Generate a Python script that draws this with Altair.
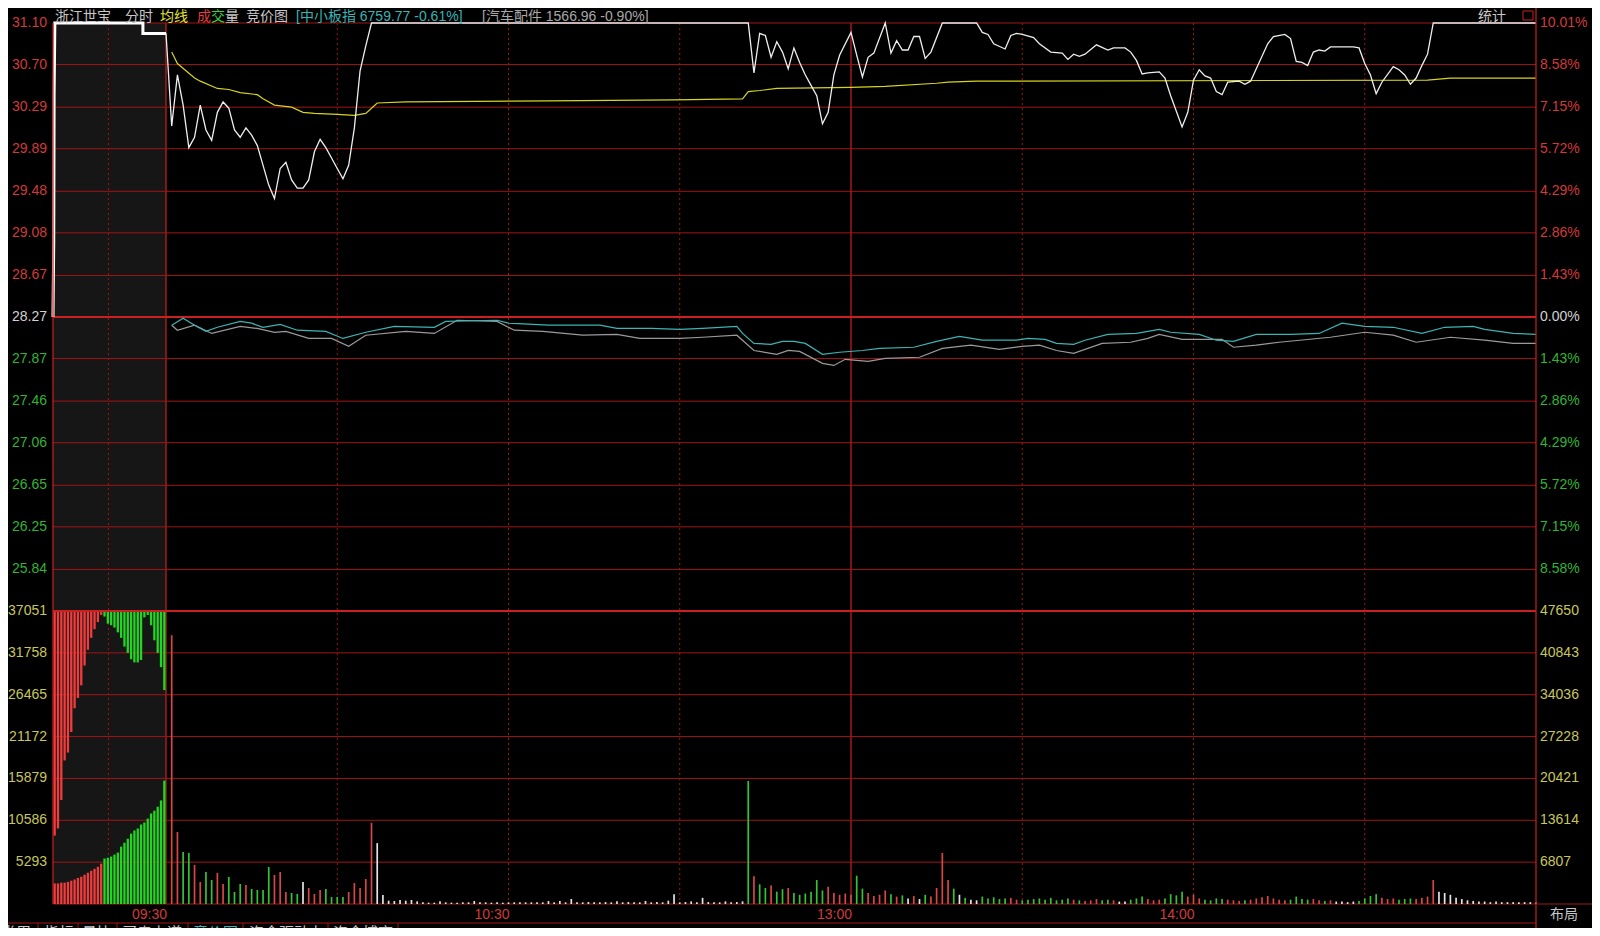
import altair as alt
import pandas as pd

# ====================== data ======================
PREV_CLOSE = 28.27

price_ticks = [31.10, 30.70, 30.29, 29.89, 29.48, 29.08, 28.67, 28.27,
               27.87, 27.46, 27.06, 26.65, 26.25, 25.84]
pct_labels = ["10.01%", "8.58%", "7.15%", "5.72%", "4.29%", "2.86%", "1.43%", "0.00%",
              "1.43%", "2.86%", "4.29%", "5.72%", "7.15%", "8.58%"]
vol_left_ticks = [37051, 31758, 26465, 21172, 15879, 10586, 5293]
vol_right_ticks = [47650, 40843, 34036, 27228, 20421, 13614, 6807]
time_ticks = [0, 60, 120, 180]
time_labels = ["09:30", "10:30", "13:00", "14:00"]

# continuous session: minutes after 09:30 (13:00 == minute 120)
price_min = [0, 1, 2, 3, 4, 5, 6, 7, 8, 9, 10, 11, 12, 13, 14, 15, 16, 17, 18, 19, 20,
             21, 22, 23, 24, 25, 26, 27, 28, 29, 30, 31, 32, 33, 34, 35, 36, 102,
             103, 104, 105, 106, 107, 108, 109, 110, 111, 112, 113, 114, 115, 116, 117, 118,
             120, 121, 122, 123, 124, 126, 127, 128, 129, 130, 131, 132, 133, 134, 136, 142,
             143, 144, 145, 147, 148, 149, 150, 152, 153, 155, 157, 158, 159, 160, 161, 163,
             165, 166, 168, 169, 170, 171, 172, 174, 175, 176, 178, 179, 180, 181, 182, 183,
             184, 185, 186, 188, 189, 190, 191, 193, 194, 196, 197, 198, 199, 200, 201, 202,
             203, 204, 207, 208, 209, 210, 211, 212, 213, 215, 216, 217, 218, 219, 220, 221,
             222, 240]
price_val = [31.00, 30.11, 30.60, 30.31, 29.90, 30.00, 30.31, 30.07, 29.97, 30.24, 30.34,
             30.28, 30.07, 30.00, 30.09, 30.02, 29.92, 29.73, 29.54, 29.41, 29.70,
             29.76, 29.59, 29.51, 29.51, 29.59, 29.86, 29.98, 29.90, 29.80, 29.70, 29.60,
             29.73, 30.09, 30.64, 30.88, 31.10, 31.10,
             30.62, 31.00, 30.98, 30.77, 30.92, 30.82, 30.66, 30.86, 30.72, 30.60, 30.50,
             30.40, 30.13, 30.24, 30.60, 30.79,
             31.01, 30.79, 30.58, 30.77, 30.81, 31.10, 30.81, 30.93, 30.84, 30.84, 30.97,
             30.97, 30.76, 30.82, 31.10, 31.10,
             31.01, 30.99, 30.90, 30.85, 30.98, 31.00, 30.99, 30.96, 30.90, 30.82, 30.81,
             30.75, 30.80, 30.78, 30.80, 30.89,
             30.84, 30.86, 30.86, 30.82, 30.74, 30.61, 30.62, 30.63, 30.57, 30.40, 30.10,
             30.24, 30.55, 30.65, 30.59, 30.57,
             30.44, 30.41, 30.53, 30.54, 30.51, 30.54, 30.66, 30.90, 30.97, 30.99, 30.95,
             30.73, 30.72, 30.69, 30.82, 30.84,
             30.83, 30.87, 30.87, 30.87, 30.86, 30.71, 30.60, 30.42, 30.53, 30.68, 30.65,
             30.60, 30.51, 30.57, 30.69, 30.80,
             31.10, 31.10]

avg_min = [1, 2, 5, 6, 9, 11, 13, 16, 17, 19, 22, 24, 26, 30, 33, 35, 36, 37, 42, 67, 89,
           101, 102, 104, 107, 120, 126, 135, 137, 142, 221, 225, 240]
avg_val = [30.82, 30.71, 30.57, 30.54, 30.47, 30.46, 30.43, 30.41, 30.37, 30.31, 30.29,
           30.24, 30.23, 30.22, 30.21, 30.23, 30.28, 30.33, 30.34, 30.35, 30.36,
           30.37, 30.44, 30.45, 30.47, 30.48, 30.49, 30.52, 30.53, 30.54, 30.55, 30.57, 30.57]

# 中小板指 (percent change)
idx_min = [1, 3, 5, 7, 9, 13, 15, 17, 20, 23, 28, 31, 35, 40, 47, 49, 58, 60, 67, 76, 79,
           85, 90, 94, 100, 101, 103, 106, 108, 110, 112, 115, 118, 122, 125, 131, 135, 139,
           143, 149, 151, 154, 156, 159, 161, 165, 170, 174, 176, 181, 184, 187, 191, 197,
           202, 206, 210, 215, 220, 224, 229, 231, 236, 240]
idx_pct = [-0.28, -0.04, -0.28, -0.49, -0.35, -0.15, -0.21, -0.35, -0.25, -0.45, -0.49,
           -0.73, -0.52, -0.32, -0.35, -0.15, -0.11, -0.21, -0.28, -0.28, -0.39,
           -0.39, -0.42, -0.39, -0.32, -0.56, -0.90, -0.93, -0.83, -0.83, -0.90, -1.27,
           -1.20, -1.14, -1.07, -1.03, -0.83, -0.66,
           -0.79, -0.79, -0.73, -0.76, -0.90, -0.93, -0.79, -0.59, -0.56, -0.42, -0.52,
           -0.59, -0.79, -0.83, -0.59, -0.59,
           -0.56, -0.21, -0.32, -0.35, -0.56, -0.35, -0.32, -0.42, -0.56, -0.59]

# 汽车配件 (percent change)
sec_min = [1, 2, 5, 8, 13, 16, 19, 21, 25, 29, 32, 35, 42, 47, 51, 58, 61, 66, 73, 79, 83,
           90, 94, 100, 103, 107, 109, 111, 115, 117, 119, 123, 126, 132, 136, 141, 146, 150,
           153, 156, 159, 164, 169, 172, 174, 178, 185, 187, 191, 195, 204, 210, 215, 219,
           225, 231, 236, 240]
sec_pct = [-0.28, -0.45, -0.28, -0.56, -0.32, -0.39, -0.52, -0.49, -0.73, -0.73, -1.00,
           -0.62, -0.49, -0.56, -0.11, -0.15, -0.45, -0.49, -0.62, -0.59, -0.73,
           -0.73, -0.69, -0.62, -1.14, -1.27, -1.14, -1.17, -1.58, -1.65, -1.44, -1.51,
           -1.41, -1.37, -1.07, -0.96, -1.10, -1.00,
           -0.96, -1.14, -1.24, -0.90, -0.86, -0.73, -0.59, -0.76, -0.76, -1.03, -0.96,
           -0.86, -0.69, -0.52, -0.62, -0.86,
           -0.69, -0.79, -0.90, -0.90]

# per-minute volume, minutes 1..240 (right-hand scale)
vol = [43700, 11700, 8450, 8300, 6340, 3580, 5200, 3900, 5040, 3250,
       4390, 1950, 3250, 3090, 2440, 2280, 2280, 6020, 4720, 5200,
       1950, 1790, 1630, 3580, 2600, 1630, 2280, 2440, 1140, 1140,
       1140, 1950, 3410, 2600, 4070, 13200, 9900, 1460,
       540, 490, 650, 540, 650, 430, 270, 220, 220, 430, 270, 220, 220, 270, 270, 490,
       270, 270, 220, 270, 220, 270, 270, 270, 270, 270, 270, 270, 490, 270, 490, 270,
       810, 270, 270, 320, 270,
       270, 320, 270, 430, 270, 320, 270, 270, 490, 270, 320, 270, 540, 1600, 270, 320,
       430, 270, 1000, 320, 270, 270, 430, 270, 320, 430,
       20000, 4500, 3200, 2600, 3000, 2000, 2400, 2600, 1800, 1500, 1700, 2000, 3900,
       2200, 2800, 1800, 1500, 1700, 1500,
       4600, 2500, 1800, 1300, 1500, 2200, 1600, 1200, 1400, 900, 1300, 800, 1500, 1200,
       2600, 8300, 3900, 2500, 1500, 1000, 700, 600,
       1200, 900, 1100, 800, 900, 1000, 700, 600, 700, 800, 900, 700, 1000, 600, 700,
       900, 700, 600, 500, 600, 800, 600, 700, 600, 400, 400, 700, 900, 1200, 800, 600,
       700, 900, 1600, 1400, 2000, 1200, 1500, 900, 700, 600, 900, 800, 700, 600, 500,
       600, 700, 900, 1100, 1300, 900, 700, 600, 700, 1200, 800, 700, 800, 600, 500,
       600, 400, 400, 300, 400, 500, 900, 1300, 1600, 1000, 800, 900, 700, 800, 900,
       800, 1000, 1200, 3900,
       2000, 1800, 1500, 1000, 800, 600, 500, 400, 400, 300, 400, 300, 300, 300, 300,
       300, 300, 300]
vol_dir = ("rrggrrggrrgggrggggrrrggwrrrggggrrrrrww"
           "wwwwwwwwwwwwwwwwwwwwwwwwwwwwwwwwwwwwwwwwwwwwwwwwwwwwwwwwwwwwwww"
           "grggrggrggggggrrrrr"
           "ggrrrrgrgwrwgrrrrgwgww"
           "gggggrrgggggggggrgrrrggrwwgggrrrggggrrrggggrrrgrrrrrrrggggrrgrwwwwggggrrrgggrrrr"
           "wwwwwwwwwwwwwwwwww")

# call auction: seconds after 09:15
auc_t = [9, 27, 45, 63, 81, 99, 117, 135, 153, 171, 189, 207, 225, 243, 261, 279, 297,
         315, 333, 351, 369, 387, 405, 423, 441, 459, 477, 495, 513, 531, 549, 567, 585, 603]
auc_unmatched = [28400, 27500, 23900, 18900, 17900, 15300, 12300, 11000, 9400, 6900, 4900,
                 3400, 2300, 1400, 500, 700, 1600, 1800, 2100, 2700, 3400, 4500, 5300,
                 6100, 6500, 6500, 6200, 800, 500, 1800, 3700, 5300, 7100, 10000]
auc_matched = [2600, 2600, 2700, 2700, 2800, 2950, 3100, 3300, 3450, 3700, 3950, 4200,
               4450, 4700, 5100, 5750, 5850, 6000, 6250, 6500, 7250, 7750, 8250, 8900,
               9300, 9550, 10050, 10300, 10800, 11450, 11800, 12300, 13100, 15600]
auc_side = "rrrrrrrrrrrrrrrggggggggggggggggggg"
auc_price_t = [0, 4, 6, 10, 487, 487, 612]
auc_price = [28.27, 29.00, 30.40, 31.10, 31.10, 31.00, 31.00]

assert len(price_min) == len(price_val)
assert len(avg_min) == len(avg_val)
assert len(idx_min) == len(idx_pct)
assert len(sec_min) == len(sec_pct)
assert len(vol) == 240 and len(vol_dir) == 240, (len(vol), len(vol_dir))
assert len(auc_t) == len(auc_unmatched) == len(auc_matched) == len(auc_side)

# ====================== styling ======================
FONT = "Liberation Sans, Noto Sans CJK SC"
GRID = "#a01616"
GRID_HI = "#cc2020"
RED_T = "#d23a3a"
GREEN_T = "#32b432"
WHITE_T = "#d2d2d2"
YEL_T = "#c9c65a"
W, HP, HA = 1483, 588, 881

XC = alt.Scale(domain=[0, 240], range=[113, W], nice=False, zero=False)
XA = alt.Scale(domain=[0, 612], range=[0, 113], nice=False, zero=False)
YP = alt.Scale(domain=[25.44, 31.10], range=[HP, 0], nice=False, zero=False)
YL = alt.Scale(domain=[0, 37051], range=[HA, HP], nice=False, zero=False)
YR = alt.Scale(domain=[0, 47650], range=[HA, HP], nice=False, zero=False)


def xc(f):
    return alt.X(f, type="quantitative", scale=XC, axis=None)


def xa(f):
    return alt.X(f, type="quantitative", scale=XA, axis=None)


def yq(f, s):
    return alt.Y(f, type="quantitative", scale=s, axis=None)


# ---------- auction background ----------
g_bg = alt.Chart(pd.DataFrame({"t0": [0], "t1": [612]})).mark_rect(color="#161616").encode(
    x=xa("t0"), x2="t1", y=alt.value(0), y2=alt.value(HA))

# ---------- vertical grid ----------
vdf = pd.DataFrame({"m": [30, 60, 90, 150, 180, 210]})
g_vdot = alt.Chart(vdf).mark_rule(color=GRID, strokeWidth=1, strokeDash=[2, 3]).encode(
    x=xc("m"), y=alt.value(0), y2=alt.value(HA))
g_vsolid = alt.Chart(pd.DataFrame({"m": [0, 120]})).mark_rule(color=GRID_HI, strokeWidth=1.2).encode(
    x=xc("m"), y=alt.value(0), y2=alt.value(HA))
g_vgrid = alt.layer(g_vdot, g_vsolid)
g_adot = alt.Chart(pd.DataFrame({"t": [300]})).mark_rule(color=GRID, strokeWidth=1, strokeDash=[2, 3]).encode(
    x=xa("t"), y=alt.value(0), y2=alt.value(HA))

# ---------- price panel ----------
pgrid = alt.Chart(pd.DataFrame({"p": price_ticks})).mark_rule(color=GRID, strokeWidth=1).encode(
    y=yq("p", YP), x=alt.value(0), x2=alt.value(W))
pzero = alt.Chart(pd.DataFrame({"p": [PREV_CLOSE]})).mark_rule(color=GRID_HI, strokeWidth=1.8).encode(
    y=yq("p", YP), x=alt.value(0), x2=alt.value(W))

idx_df = pd.DataFrame({"m": idx_min, "p": [PREV_CLOSE * (1 + v / 100) for v in idx_pct]})
sec_df = pd.DataFrame({"m": sec_min, "p": [PREV_CLOSE * (1 + v / 100) for v in sec_pct]})
l_sec = alt.Chart(sec_df).mark_line(color="#9a9a9a", strokeWidth=1.2).encode(x=xc("m"), y=yq("p", YP))
l_idx = alt.Chart(idx_df).mark_line(color="#3cb4b4", strokeWidth=1.2).encode(x=xc("m"), y=yq("p", YP))
l_avg = alt.Chart(pd.DataFrame({"m": avg_min, "p": avg_val})).mark_line(
    color="#d6d41e", strokeWidth=1.2).encode(x=xc("m"), y=yq("p", YP))
l_price = alt.Chart(pd.DataFrame({"m": price_min, "p": price_val})).mark_line(
    color="#eeeeee", strokeWidth=1.3).encode(x=xc("m"), y=yq("p", YP))

lab_col = [RED_T if p > PREV_CLOSE else (WHITE_T if p == PREV_CLOSE else GREEN_T) for p in price_ticks]
lab_df = pd.DataFrame({"p": price_ticks, "txt": [f"{p:.2f}" for p in price_ticks],
                       "pct": pct_labels, "c": lab_col})
t_left = alt.Chart(lab_df).mark_text(align="right", baseline="middle", font=FONT, fontSize=14).encode(
    x=alt.value(-6), y=yq("p", YP), text="txt:N", color=alt.Color("c:N", scale=None))
t_right = alt.Chart(lab_df).mark_text(align="left", baseline="middle", font=FONT, fontSize=14).encode(
    x=alt.value(W + 4), y=yq("p", YP), text="pct:N", color=alt.Color("c:N", scale=None))
g_price = alt.layer(pgrid, pzero, l_sec, l_idx, l_avg, l_price, t_left, t_right)

# ---------- auction price ----------
ap_df = pd.DataFrame({"t": auc_price_t, "p": auc_price, "seq": list(range(len(auc_price)))})
g_aprice = alt.Chart(ap_df).mark_line(color="#ffffff", strokeWidth=3).encode(
    x=xa("t"), y=yq("p", YP), order="seq:Q")

# ---------- volume panel (left scale: auction) ----------
vgrid = alt.Chart(pd.DataFrame({"v": vol_left_ticks[1:] + [0]})).mark_rule(color=GRID, strokeWidth=1).encode(
    y=yq("v", YL), x=alt.value(0), x2=alt.value(W))
vtop = alt.Chart(pd.DataFrame({"v": [37051]})).mark_rule(color=GRID_HI, strokeWidth=2).encode(
    y=yq("v", YL), x=alt.value(0), x2=alt.value(W))
auc_col = ["#f03c3c" if s == "r" else "#22d622" for s in auc_side]
auc_df = pd.DataFrame({"t": auc_t, "top": [37051] * len(auc_t),
                       "hang": [37051 - u for u in auc_unmatched],
                       "base": [0] * len(auc_t), "mat": auc_matched, "c": auc_col})
b_hang = alt.Chart(auc_df).mark_rule(strokeWidth=2.3).encode(
    x=xa("t"), y=yq("top", YL), y2="hang", color=alt.Color("c:N", scale=None))
b_mat = alt.Chart(auc_df).mark_rule(strokeWidth=2.3).encode(
    x=xa("t"), y=yq("base", YL), y2="mat", color=alt.Color("c:N", scale=None))
vl_df = pd.DataFrame({"v": vol_left_ticks, "txt": [str(v) for v in vol_left_ticks]})
t_vleft = alt.Chart(vl_df).mark_text(align="right", baseline="middle", font=FONT, fontSize=14,
                                      color=YEL_T).encode(x=alt.value(-6), y=yq("v", YL), text="txt:N")
g_auc = alt.layer(vgrid, b_hang, b_mat, vtop, t_vleft)

# ---------- volume panel (right scale: continuous session) ----------
dir_col = {"r": "#d84646", "g": "#36c236", "w": "#e4e4e4"}
vol_df = pd.DataFrame({"m": list(range(1, 241)), "v": vol, "base": [0] * 240,
                       "c": [dir_col[d] for d in vol_dir]})
b_vol = alt.Chart(vol_df).mark_rule(strokeWidth=1.7).encode(
    x=xc("m"), y=yq("base", YR), y2="v", color=alt.Color("c:N", scale=None))
vr_df = pd.DataFrame({"v": vol_right_ticks, "txt": [str(v) for v in vol_right_ticks]})
t_vright = alt.Chart(vr_df).mark_text(align="left", baseline="middle", font=FONT, fontSize=14,
                                       color=YEL_T).encode(x=alt.value(W + 4), y=yq("v", YR), text="txt:N")
tm_df = pd.DataFrame({"m": time_ticks, "txt": time_labels})
t_time = alt.Chart(tm_df).mark_text(align="right", baseline="middle", font=FONT, fontSize=14,
                                     color=RED_T, dx=1).encode(x=xc("m"), y=alt.value(892), text="txt:N")
g_vol = alt.layer(b_vol, t_vright, t_time)

# ---------- frame & static text ----------
one = pd.DataFrame({"k": [0]})
frame = [
    alt.Chart(one).mark_rule(color=GRID_HI, strokeWidth=1.2).encode(
        x=alt.value(0), y=alt.value(0), y2=alt.value(HA)),
    alt.Chart(one).mark_rule(color=GRID_HI, strokeWidth=1.2).encode(
        x=alt.value(W), y=alt.value(-16), y2=alt.value(910)),
    alt.Chart(one).mark_rule(color=GRID, strokeWidth=1).encode(
        x=alt.value(W), x2=alt.value(W + 60), y=alt.value(HA)),
    alt.Chart(one).mark_rule(color=GRID, strokeWidth=1).encode(
        x=alt.value(-46), x2=alt.value(W), y=alt.value(900)),
]
header = [("浙江世宝", 2, "#c8c8c8"), ("分时", 72, "#c8c8c8"), ("均线", 107, "#e2e232"),
          ("成", 144, "#e23c3c"), ("交", 158, "#3cd23c"), ("量", 172, "#c8c8c8"),
          ("竞价图", 193, "#c8c8c8"), ("[中小板指 6759.77 -0.61%]", 243, "#38b4b4"),
          ("[汽车配件 1566.96 -0.90%]", 429, "#a8a8a8"), ("统计", 1425, "#c8c8c8")]
texts = []
for s, px, col in header:
    texts.append(alt.Chart(one).mark_text(align="left", baseline="middle", font=FONT, fontSize=14,
                                          color=col, text=s).encode(x=alt.value(px), y=alt.value(-6.5)))
texts.append(alt.Chart(one).mark_rect(fill="#000000", stroke="#c42222", strokeWidth=1).encode(
    x=alt.value(1470), x2=alt.value(1480), y=alt.value(-12), y2=alt.value(-3)))
texts.append(alt.Chart(one).mark_text(align="center", baseline="middle", font=FONT, fontSize=14,
                                      color="#c8c8c8", text="布局").encode(x=alt.value(1511), y=alt.value(892)))
tabs = [("常用", -52, "#c8c8c8"), ("指标", -9, "#c8c8c8"), ("量比", 29, "#c8c8c8"),
        ("买卖力道", 69, "#c8c8c8"), ("竞价图", 140, "#38b4b4"), ("资金驱动力", 196, "#c8c8c8"),
        ("资金博弈", 280, "#c8c8c8")]
for s, px, col in tabs:
    texts.append(alt.Chart(one).mark_text(align="left", baseline="top", font=FONT, fontSize=15,
                                          color=col, text=s).encode(x=alt.value(px), y=alt.value(903)))
for px in [-15, 25, 64, 135, 190, 275, 345]:
    texts.append(alt.Chart(one).mark_rule(color=GRID, strokeWidth=1).encode(
        x=alt.value(px), y=alt.value(900), y2=alt.value(910)))
g_static = alt.layer(*frame, *texts)

chart = alt.layer(g_bg, g_vgrid, g_adot, g_price, g_aprice, g_auc, g_vol, g_static).resolve_scale(
    x="independent", y="independent"
).properties(
    width=W, height=HA,
    autosize=alt.AutoSizeParams(type="none"),
    padding={"left": 45, "top": 15, "right": 56, "bottom": 24},
    background="#000000",
).configure_view(stroke=None)

chart.save("out.html", embed_options={"renderer": "svg", "actions": False})
